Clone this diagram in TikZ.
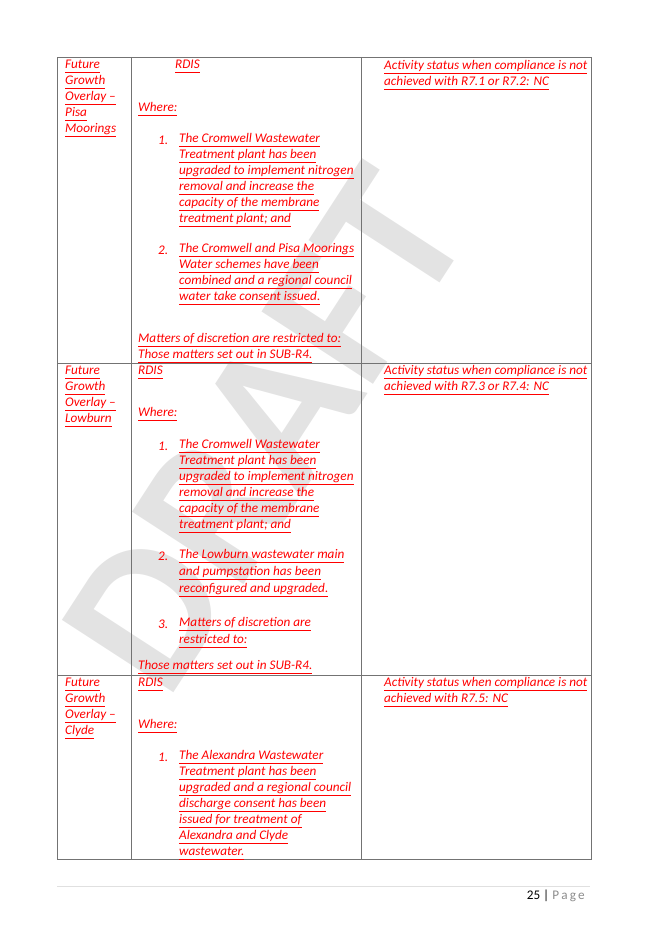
\documentclass[tikz,border=0pt]{standalone}
\usepackage{fontspec}
\setmainfont{Carlito}
\usetikzlibrary{positioning}

% one underlined line per node, numbered name\i
\newcommand{\celllines}[5]{%
  \foreach \t [count=\i] in {#5}
    \node[cell] (#1\i) at (#2,{#3+(\i-1)*#4}) {\underline{\t\vphantom{gy}}};}

\begin{document}
\begin{tikzpicture}[
    x=1pt, y=-1pt,
    cell/.style={anchor=west, inner sep=0pt, text=red, font=\fontsize{13.2}{15}\selectfont\itshape},
    num/.style={anchor=west, inner sep=0pt, text=red, font=\fontsize{13.2}{15}\selectfont\itshape},
    rule/.style={draw=black!55, line width=0.8pt}
]
    \useasboundingbox (0,0) rectangle (645,934);

    % watermark
    \node[rotate=57, text=black!11, font=\fontsize{205}{205}\selectfont\bfseries] (wm) at (265,430) {DRAFT};

    % table grid
    \draw[rule] (57,57) rectangle (591,859);
    \draw[rule] (57,363) -- (591,363);
    \draw[rule] (57,675) -- (591,675);
    \draw[rule] (131,57) -- (131,859);
    \draw[rule] (361,57) -- (361,859);

    % row 1: Pisa Moorings
    \celllines{pa}{65}{66}{16}{Future,Growth,Overlay –,Pisa,Moorings}
    \node[cell] (pr) at (175,66) {\underline{RDIS\vphantom{gy}}};
    \node[cell] (pw) at (138,109) {\underline{Where:\vphantom{gy}}};
    \node[num] (pn1) at (158,140) {1.};
    \celllines{pb}{179}{140}{16}{The Cromwell Wastewater,Treatment plant has been,upgraded to implement nitrogen,removal and increase the,capacity of the membrane,treatment plant; and}
    \node[num] (pn2) at (158,250) {2.};
    \celllines{pc}{179}{250}{16}{The Cromwell and Pisa Moorings,Water schemes have been,combined and a regional council,water take consent issued.}
    \celllines{pm}{138}{340}{16}{Matters of discretion are restricted to:,Those matters set out in SUB-R4.}
    \celllines{ps}{384}{67}{16}{Activity status when compliance is not,achieved with R7.1 or R7.2: NC}

    % row 2: Lowburn
    \celllines{la}{65}{372}{16}{Future,Growth,Overlay –,Lowburn}
    \node[cell] (lr) at (138,372) {\underline{RDIS\vphantom{gy}}};
    \node[cell] (lw) at (138,414) {\underline{Where:\vphantom{gy}}};
    \node[num] (ln1) at (158,446) {1.};
    \celllines{lb}{179}{446}{16}{The Cromwell Wastewater,Treatment plant has been,upgraded to implement nitrogen,removal and increase the,capacity of the membrane,treatment plant; and}
    \node[num] (ln2) at (158,556) {2.};
    \celllines{lc}{179}{556}{17}{The Lowburn wastewater main,and pumpstation has been,reconfigured and upgraded.}
    \node[num] (ln3) at (158,624) {3.};
    \celllines{ld}{179}{624}{17}{Matters of discretion are,restricted to:}
    \node[cell] (lm) at (138,667) {\underline{Those matters set out in SUB-R4.\vphantom{gy}}};
    \celllines{ls}{384}{372}{16}{Activity status when compliance is not,achieved with R7.3 or R7.4: NC}

    % row 3: Clyde
    \celllines{ca}{65}{684}{16}{Future,Growth,Overlay –,Clyde}
    \node[cell] (cr) at (138,684) {\underline{RDIS\vphantom{gy}}};
    \node[cell] (cw) at (138,726) {\underline{Where:\vphantom{gy}}};
    \node[num] (cn1) at (158,757) {1.};
    \celllines{cb}{179}{757}{16}{The Alexandra Wastewater,Treatment plant has been,upgraded and a regional council,discharge consent has been,issued for treatment of,Alexandra and Clyde,wastewater.}
    \celllines{cs}{384}{684}{16}{Activity status when compliance is not,achieved with R7.5: NC}

    % footer
    \draw[black!12, line width=0.8pt] (57,886) -- (590,886);
    \node[anchor=east, inner sep=0pt, font=\fontsize{13.2}{16}\selectfont] (pg) at (585,896)
        {25 | \textcolor{black!45}{P\,a\,g\,e}};
\end{tikzpicture}
\end{document}
